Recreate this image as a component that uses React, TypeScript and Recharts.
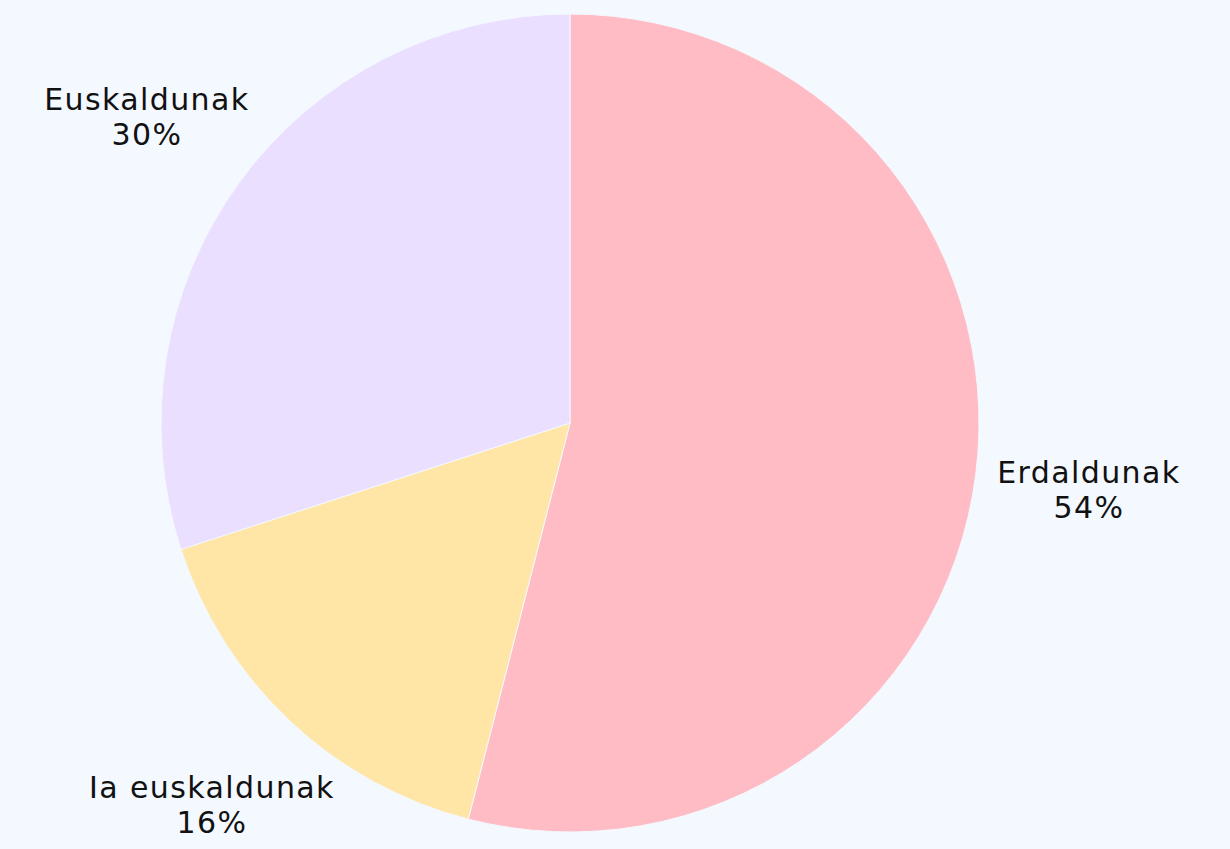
import { PieChart, Pie, Cell } from "recharts";

const groups = ["Erdaldunak", "Ia euskaldunak", "Euskaldunak"];
const shares = [54, 16, 30];
const colors = ["#FFBCC4", "#FFE6A6", "#EADFFF"];

const data = groups.map((name, i) => ({ name, value: shares[i] }));

const RAD = Math.PI / 180;

function renderLabel(props: any) {
  const { cx, cy, midAngle, outerRadius, name, value } = props;
  const r = outerRadius + 114;
  const x = cx + r * Math.cos(-midAngle * RAD);
  const y = cy + r * Math.sin(-midAngle * RAD);
  return (
    <text
      x={x}
      y={y}
      textAnchor="middle"
      fill="#111111"
      fontSize={30}
      letterSpacing={1.4}
      fontFamily="'DejaVu Sans', sans-serif"
    >
      <tspan x={x} y={y - 6}>{name}</tspan>
      <tspan x={x} y={y + 29}>{`${value}%`}</tspan>
    </text>
  );
}

export default function App() {
  return (
    <div
      style={{
        position: "absolute",
        top: 0,
        left: 0,
        width: 1230,
        height: 849,
        background: "#F4F8FF",
      }}
    >
      <PieChart width={1230} height={849} margin={{ top: 0, right: 0, bottom: 0, left: 0 }}>
        <Pie
          data={data}
          dataKey="value"
          nameKey="name"
          cx={570}
          cy={423}
          outerRadius={409}
          startAngle={90}
          endAngle={-270}
          stroke="#F4F8FF"
          strokeWidth={1}
          label={renderLabel}
          labelLine={false}
          isAnimationActive={false}
        >
          {data.map((d, i) => (
            <Cell key={d.name} fill={colors[i]} />
          ))}
        </Pie>
      </PieChart>
    </div>
  );
}
